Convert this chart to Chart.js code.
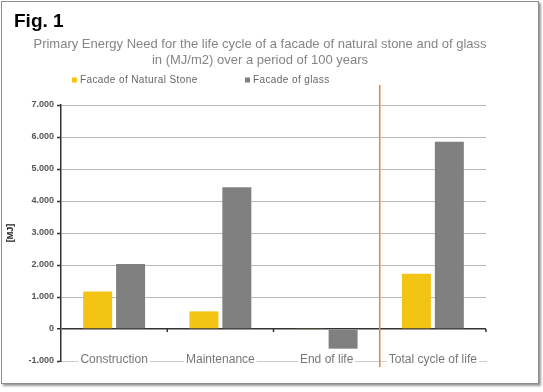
<!DOCTYPE html>
<html><head><meta charset="utf-8">
<script src="https://cdn.jsdelivr.net/npm/chart.js@4.4.0/dist/chart.umd.min.js"></script>
<style>
html,body{margin:0;padding:0;background:#fff;}
#wrap{position:relative;width:543px;height:392px;overflow:hidden;}
canvas{position:absolute;left:0;top:0;}
#frame{position:absolute;left:1px;top:1px;width:536px;height:381px;border:1px solid #8c8c8c;box-shadow:2px 2px 2px #9a9a9a;pointer-events:none;}
</style></head><body>
<div id="wrap"><canvas id="c" width="543" height="392"></canvas><div id="frame"></div></div>
<script>
const categories = ['Construction', 'Maintenance', 'End of life', 'Total cycle of life'];
const seriesNames = ['Facade of Natural Stone', 'Facade of glass'];
const stoneValues = [1170, 550, 20, 1730];
const glassValues = [2030, 4430, -615, 5850];
const yMin = -1000, yMax = 7000, yStep = 1000;
const titleText = 'Fig. 1';
const subtitleLines = ['Primary Energy Need for the life cycle of a facade of natural stone and of glass', 'in (MJ/m2) over a period of 100 years'];
const axisTitle = '[MJ]';
const colors = ['#f4c414', '#808080'];

Chart.defaults.font.family = '"Liberation Sans", Arial, sans-serif';

const decor = {
  id: 'decor',
  afterDatasetsDraw(chart) {
    const {ctx, chartArea} = chart;
    const x = chart.scales.x, y = chart.scales.y;
    const y0 = y.getPixelForValue(0);
    ctx.save();
    ctx.strokeStyle = '#333';
    ctx.lineWidth = 1.5;
    const bxs = [];
    for (let i = 0; i < 2; i++) bxs.push((x.getPixelForValue(i) + x.getPixelForValue(i + 1)) / 2);
    bxs.push(chartArea.right);
    bxs.forEach(bx => { ctx.beginPath(); ctx.moveTo(bx, y0); ctx.lineTo(bx, y0 + 3); ctx.stroke(); });
    const sx = (x.getPixelForValue(2) + x.getPixelForValue(3)) / 2;
    ctx.strokeStyle = '#e08a45';
    ctx.lineWidth = 1.6;
    ctx.beginPath();
    ctx.moveTo(sx, chartArea.top - 20);
    ctx.lineTo(sx, chartArea.bottom + 6);
    ctx.stroke();
    ctx.restore();
  },
  afterDraw(chart) {
    const {ctx} = chart;
    const xs = [72, 245];
    ctx.save();
    ctx.font = '10px "Liberation Sans", Arial, sans-serif';
    if ('letterSpacing' in ctx) ctx.letterSpacing = '0.4px';
    ctx.textBaseline = 'middle';
    ctx.textAlign = 'left';
    chart.data.datasets.forEach((ds, i) => {
      ctx.fillStyle = ds.backgroundColor;
      ctx.fillRect(xs[i], 77.5, 5, 5);
      ctx.fillStyle = '#666';
      ctx.fillText(ds.label, xs[i] + 8, 80.5);
    });
    ctx.restore();
  }
};

new Chart(document.getElementById('c'), {
  type: 'bar',
  data: {
    labels: categories,
    datasets: [
      {label: seriesNames[0], data: stoneValues, backgroundColor: colors[0], borderWidth: 0, categoryPercentage: 0.62, barPercentage: 0.88},
      {label: seriesNames[1], data: glassValues, backgroundColor: colors[1], borderWidth: 0, categoryPercentage: 0.62, barPercentage: 0.88}
    ]
  },
  options: {
    responsive: false,
    animation: false,
    devicePixelRatio: 1,
    layout: {padding: {left: 14, right: 37, top: 0, bottom: 31}},
    plugins: {
      legend: {display: false},
      tooltip: {enabled: false},
      title: {display: true, text: titleText, align: 'start', color: '#000', font: {size: 19, weight: 'bold'}, padding: {top: 10, bottom: 0}},
      subtitle: {display: true, text: subtitleLines, color: '#858585', font: {size: 13}, padding: {top: 4, bottom: 37}}
    },
    scales: {
      x: {
        grid: {display: true, drawOnChartArea: false, drawTicks: false, tickLength: 0},
        border: {display: true, color: '#cdcdcd', width: 1},
        ticks: {color: '#777', font: {size: 12}, mirror: true, padding: -6, z: 1,
          showLabelBackdrop: true, backdropColor: '#fff', backdropPadding: {x: 2, y: 0}},
        afterFit: s => { s.height = 0; }
      },
      y: {
        min: yMin, max: yMax,
        ticks: {stepSize: yStep, color: '#555', font: {size: 9, weight: 'bold'}, padding: 3,
          callback: v => v.toLocaleString('de-DE')},
        grid: {
          color: c => c.tick && c.tick.value === 0 ? '#333' : (c.tick && c.tick.value === yMin ? '#cdcdcd' : '#b8b8b8'),
          lineWidth: c => c.tick && c.tick.value === 0 ? 1.5 : 1,
          tickColor: '#333', tickLength: 4, tickWidth: 1.5
        },
        border: {color: '#333', width: 1.5},
        title: {display: true, text: axisTitle, color: '#222', font: {size: 9, weight: 'bold'}, padding: {top: -9, bottom: 0}},
        afterFit: s => { s.width = 47; }
      },
      y2: {
        type: 'linear', position: 'right', display: true,
        grid: {display: false, drawTicks: false},
        border: {display: false},
        ticks: {display: false},
        afterFit: s => { s.width = 20; }
      }
    }
  },
  plugins: [decor]
});
</script>
</body></html>
